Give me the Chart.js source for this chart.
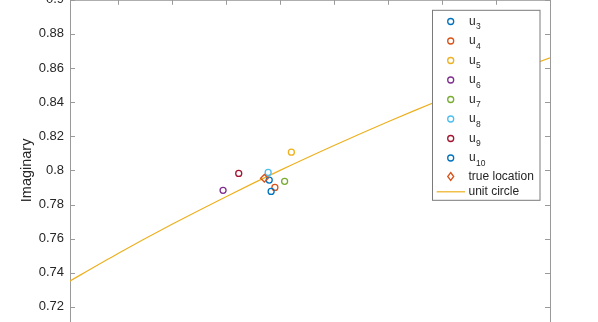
<!DOCTYPE html>
<html>
<head>
<meta charset="utf-8">
<script src="https://cdn.jsdelivr.net/npm/chart.js@4.4.1/dist/chart.umd.min.js"></script>
<style>
html, body { margin: 0; padding: 0; background: #fff; overflow: hidden; }
#wrap { position: relative; width: 598px; height: 360px; }
</style>
</head>
<body>
<div id="wrap"><canvas id="myChart"></canvas></div>
<script>
// estimates u_k (complex plane)
const subIdx = [3, 4, 5, 6, 7, 8, 9, 10];
const estReal = [-0.6040, -0.6019, -0.5958, -0.6211, -0.5983, -0.6044, -0.6153, -0.6033];
const estImag = [0.7943, 0.7900, 0.8107, 0.7883, 0.7936, 0.7988, 0.7982, 0.7877];
const estColors = ['#0072BD', '#D95319', '#EDB120', '#7E2F8E', '#77AC30', '#4DBEEE', '#A2142F', '#0072BD'];

const trueReal = [-0.6058];
const trueImag = [0.7954];

const circleReal = [-0.68, -0.66, -0.64, -0.62, -0.60, -0.58, -0.56, -0.54, -0.52, -0.50];
const circleImag = [0.7332, 0.7513, 0.7684, 0.7846, 0.8000, 0.8146, 0.8285, 0.8417, 0.8542, 0.8660];

const xTicks = [-0.66, -0.64, -0.62, -0.60, -0.58, -0.56, -0.54, -0.52, -0.50];
const yTicks = [0.7, 0.72, 0.74, 0.76, 0.78, 0.8, 0.82, 0.84, 0.86, 0.88, 0.9];

const FONT = '"Liberation Sans", Arial, Helvetica, sans-serif';
const AXIS_GRAY = '#9a9a9a';
const TEXT = '#262626';

const datasets = [];
subIdx.forEach((k, i) => {
  datasets.push({
    type: 'scatter',
    label: 'u' + k,
    data: [{x: estReal[i], y: estImag[i]}],
    pointStyle: 'circle',
    radius: 3,
    borderWidth: 1.3,
    borderColor: estColors[i],
    backgroundColor: 'rgba(0,0,0,0)',
    order: subIdx.length - i
  });
});
datasets.push({
  type: 'scatter',
  label: 'true location',
  data: trueReal.map((x, i) => ({x: x, y: trueImag[i]})),
  pointStyle: 'rectRot',
  radius: 3.8,
  borderWidth: 1.3,
  borderColor: '#D95319',
  backgroundColor: 'rgba(0,0,0,0)',
  order: 0
});
datasets.push({
  type: 'line',
  label: 'unit circle',
  data: circleReal.map((x, i) => ({x: x, y: circleImag[i]})),
  borderColor: '#EDB120',
  borderWidth: 1.2,
  pointRadius: 0,
  tension: 0.3,
  fill: false,
  order: 20
});

// MATLAB-like box with inward ticks, plus the legend with subscripts
const frame = {
  id: 'frame',
  afterDatasetsDraw(chart) {
    const {ctx, chartArea: a, scales: {x, y}} = chart;
    ctx.save();
    ctx.strokeStyle = AXIS_GRAY;
    ctx.lineWidth = 1;
    ctx.beginPath();
    ctx.moveTo(a.left, a.top + 0.5); ctx.lineTo(a.right, a.top + 0.5);
    ctx.moveTo(a.right + 0.5, a.top); ctx.lineTo(a.right + 0.5, a.bottom);
    yTicks.forEach(v => {
      const py = Math.round(y.getPixelForValue(v)) + 0.5;
      ctx.moveTo(a.left, py); ctx.lineTo(a.left + 5, py);
      ctx.moveTo(a.right, py); ctx.lineTo(a.right - 5, py);
    });
    xTicks.forEach(v => {
      const px = Math.round(x.getPixelForValue(v)) + 0.5;
      ctx.moveTo(px, a.top); ctx.lineTo(px, a.top + 5);
    });
    ctx.stroke();
    ctx.restore();
  },
  afterDraw(chart) {
    const ctx = chart.ctx;
    const off = chart.chartArea.top;
    const L = 432.5, T = 10.5 + off, W = 107.5, H = 190;
    ctx.save();
    ctx.fillStyle = '#fff';
    ctx.fillRect(L, T, W, H);
    ctx.strokeStyle = '#7a7a7a';
    ctx.lineWidth = 1;
    ctx.strokeRect(L, T, W, H);
    const mx = 450.7, tx = 469;
    chart.data.datasets.forEach((ds, i) => {
      let ry;
      if (i < subIdx.length) ry = 21.7 + i * 19.5;
      else if (ds.type === 'scatter') ry = 176.7;
      else ry = 192;
      ry += off;
      ctx.strokeStyle = ds.borderColor;
      ctx.lineWidth = ds.borderWidth;
      ctx.beginPath();
      if (ds.type === 'line') {
        ctx.moveTo(436.7, ry); ctx.lineTo(465, ry);
      } else if (ds.pointStyle === 'rectRot') {
        ctx.moveTo(mx, ry - 4); ctx.lineTo(mx + 3, ry); ctx.lineTo(mx, ry + 4); ctx.lineTo(mx - 3, ry); ctx.closePath();
      } else {
        ctx.arc(mx, ry, 3, 0, Math.PI * 2);
      }
      ctx.stroke();
      ctx.fillStyle = TEXT;
      if (i < subIdx.length) {
        ctx.textBaseline = 'alphabetic';
        ctx.textAlign = 'left';
        ctx.font = '12px ' + FONT;
        ctx.fillText('u', tx, ry + 3.4);
        const w = ctx.measureText('u').width;
        ctx.font = '8.5px ' + FONT;
        ctx.fillText(String(subIdx[i]), tx + w + 0.3, ry + 7.8);
      } else {
        ctx.textBaseline = 'middle';
        ctx.textAlign = 'left';
        ctx.font = '12px ' + FONT;
        ctx.fillText(ds.label, tx - 0.5, ry);
      }
    });
    ctx.restore();
  }
};

const chart = new Chart(document.getElementById('myChart'), {
  data: {datasets: datasets},
  options: {
    responsive: true,
    maintainAspectRatio: false,
    animation: false,
    layout: {padding: {top: 0, left: 0, right: 48, bottom: 19}},
    plugins: {legend: {display: false}, tooltip: {enabled: false}},
    scales: {
      x: {
        type: 'linear',
        display: false,
        min: -0.6778,
        max: -0.5
      },
      y: {
        type: 'linear',
        min: 0.7,
        max: 0.9,
        afterBuildTicks(scale) {
          scale.ticks = yTicks.map(v => ({value: v}));
        },
        afterFit(scale) {
          scale.width = 70;
        },
        grid: {display: false, drawTicks: false},
        border: {display: true, color: AXIS_GRAY, width: 1},
        ticks: {
          padding: 6,
          color: TEXT,
          font: {family: FONT, size: 13},
          callback: v => String(+v.toFixed(2))
        },
        title: {
          display: true,
          text: 'Imaginary',
          color: TEXT,
          font: {family: FONT, size: 14.5},
          padding: {top: 18, bottom: 0}
        }
      }
    }
  },
  plugins: [frame]
});

// the picture is a crop: pull the canvas up so the plot's top edge sits on the page top
const t = Math.round(chart.chartArea.top);
const wrap = document.getElementById('wrap');
wrap.style.marginTop = (-t) + 'px';
wrap.style.height = (360 + t) + 'px';
chart.resize();
</script>
</body>
</html>
